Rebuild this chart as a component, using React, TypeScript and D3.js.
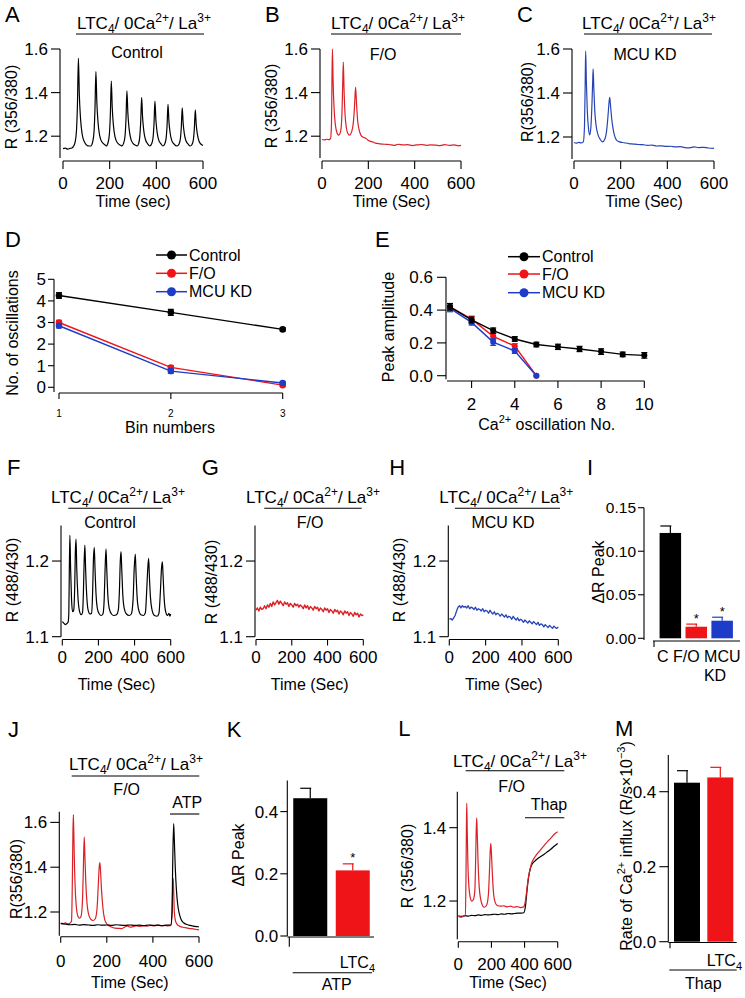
import React from "react";
import * as d3 from "d3";

const FONT = "'Liberation Sans', Arial, Helvetica, sans-serif";
const RED = "#ee1418";
const BLUE = "#1d3cc8";
const TRACE_RED = "#dc2027";
const TRACE_BLUE = "#2744b6";
const TICK = 17;
const TITLE = 16;

// ---------- data ----------
const timeTicks = [0, 200, 400, 600];

// A: control, fura-2 ratio 356/380 (time s, ratio)
const controlFura = [
  [0, 1.143], [10, 1.145], [20, 1.141], [30, 1.144], [38, 1.146],
  [44, 1.152], [52, 1.173], [58, 1.23], [62, 1.35], [66, 1.557], [70, 1.39], [75, 1.283], [82, 1.21], [92, 1.173], [106, 1.156],
  [119, 1.155], [127, 1.173], [133, 1.22], [137, 1.324], [141, 1.496], [145, 1.358], [150, 1.265], [157, 1.204], [167, 1.173], [181, 1.159],
  [185, 1.155], [193, 1.17], [199, 1.212], [203, 1.302], [207, 1.453], [211, 1.332], [216, 1.251], [223, 1.197], [233, 1.17], [247, 1.158],
  [252, 1.155], [260, 1.168], [266, 1.203], [270, 1.28], [274, 1.408], [278, 1.306], [283, 1.237], [290, 1.19], [300, 1.167], [314, 1.157],
  [318, 1.155], [324, 1.166], [329, 1.197], [333, 1.265], [337, 1.378], [341, 1.288], [346, 1.227], [353, 1.186], [363, 1.165],
  [372, 1.155], [380, 1.165], [386, 1.194], [390, 1.256], [394, 1.361], [398, 1.277], [403, 1.221], [410, 1.183], [420, 1.165],
  [428, 1.155], [436, 1.164], [442, 1.191], [446, 1.249], [450, 1.346], [454, 1.268], [459, 1.216], [466, 1.181], [476, 1.164],
  [489, 1.155], [497, 1.163], [503, 1.188], [507, 1.241], [511, 1.33], [515, 1.259], [520, 1.211], [527, 1.179], [537, 1.163],
  [545, 1.155], [553, 1.162], [559, 1.186], [563, 1.237], [567, 1.321], [571, 1.253], [576, 1.208], [583, 1.177], [593, 1.162], [600, 1.158],
];

// B: F/O
const foFura = [
  [0, 1.185], [10, 1.183], [20, 1.186], [30, 1.184], [37, 1.19], [41, 1.26], [43, 1.45], [45, 1.6], [48, 1.45], [52, 1.33],
  [58, 1.25], [65, 1.215], [72, 1.205], [80, 1.22], [86, 1.3], [89, 1.42], [92, 1.54], [95, 1.42], [99, 1.31], [105, 1.24],
  [112, 1.212], [118, 1.205], [128, 1.22], [135, 1.26], [140, 1.33], [145, 1.425], [149, 1.35], [154, 1.27], [160, 1.23],
  [168, 1.205], [178, 1.195], [190, 1.19], [200, 1.18], [215, 1.175], [230, 1.168], [250, 1.165], [270, 1.163], [290, 1.162],
  [310, 1.158], [330, 1.163], [350, 1.16], [370, 1.161], [390, 1.157], [410, 1.16], [430, 1.162], [450, 1.158], [470, 1.16],
  [490, 1.159], [510, 1.157], [530, 1.161], [550, 1.158], [570, 1.16], [590, 1.156], [600, 1.158],
];

// C: MCU KD
const mcuFura = [
  [0, 1.175], [10, 1.172], [20, 1.176], [30, 1.173], [40, 1.178], [45, 1.25], [48, 1.45], [50, 1.59], [53, 1.45], [57, 1.32],
  [62, 1.24], [67, 1.21], [72, 1.24], [77, 1.35], [80, 1.45], [82, 1.51], [85, 1.42], [89, 1.32], [95, 1.25], [103, 1.21],
  [112, 1.19], [122, 1.178], [132, 1.19], [140, 1.23], [146, 1.3], [150, 1.355], [153, 1.38], [156, 1.35], [161, 1.29],
  [167, 1.24], [174, 1.205], [183, 1.185], [195, 1.178], [215, 1.174], [235, 1.17], [255, 1.168], [275, 1.166], [295, 1.165],
  [315, 1.162], [335, 1.163], [355, 1.159], [375, 1.16], [395, 1.157], [415, 1.158], [435, 1.155], [455, 1.156], [475, 1.152],
  [495, 1.151], [515, 1.155], [535, 1.152], [555, 1.153], [575, 1.15], [600, 1.148],
];

// D: number of oscillations per bin
const binNumbers = [1, 2, 3];
const oscControl = [4.25, 3.47, 2.68];
const oscControlErr = [0.13, 0.14, 0.07];
const oscFO = [3.0, 0.92, 0.1];
const oscFOErr = [0.1, 0.08, 0.05];
const oscMCU = [2.85, 0.75, 0.2];
const oscMCUErr = [0.1, 0.1, 0.05];

// E: peak amplitude per oscillation number
const oscNoControl = [1, 2, 3, 4, 5, 6, 7, 8, 9, 10];
const ampControl = [0.42, 0.34, 0.275, 0.224, 0.19, 0.176, 0.163, 0.147, 0.13, 0.124];
const ampControlErr = [0.02, 0.018, 0.016, 0.014, 0.014, 0.016, 0.016, 0.017, 0.014, 0.017];
const oscNoKD = [1, 2, 3, 4, 5];
const ampFO = [0.42, 0.345, 0.24, 0.18, 0.0];
const ampFOErr = [0.02, 0.018, 0.02, 0.015, 0.0];
const ampMCU = [0.41, 0.325, 0.205, 0.15, 0.0];
const ampMCUErr = [0.02, 0.016, 0.02, 0.014, 0.0];

// F: control, mito pericam ratio 488/430
const controlPericam = [
  [0, 1.12], [8, 1.118], [16, 1.116], [24, 1.117], [32, 1.119], [36, 1.13], [39, 1.19], [42, 1.234], [46, 1.19], [51, 1.15],
  [57, 1.133], [63, 1.135], [69, 1.17], [72, 1.21], [76, 1.229], [80, 1.19], [86, 1.155], [94, 1.135], [104, 1.129], [112, 1.132],
  [117, 1.16], [121, 1.2], [125, 1.221], [129, 1.19], [135, 1.155], [143, 1.135], [153, 1.13], [162, 1.131], [168, 1.16],
  [172, 1.2], [177, 1.218], [181, 1.19], [187, 1.155], [195, 1.136], [205, 1.13], [215, 1.128], [225, 1.13], [232, 1.15],
  [237, 1.19], [242, 1.216], [246, 1.19], [252, 1.155], [260, 1.137], [272, 1.13], [285, 1.128], [300, 1.129], [310, 1.135],
  [316, 1.16], [321, 1.2], [325, 1.2125], [329, 1.19], [335, 1.155], [343, 1.137], [355, 1.13], [370, 1.128], [382, 1.13],
  [392, 1.15], [398, 1.19], [404, 1.209], [408, 1.185], [414, 1.153], [422, 1.136], [435, 1.129], [450, 1.128], [460, 1.132],
  [467, 1.16], [473, 1.19], [478, 1.2035], [482, 1.18], [488, 1.152], [496, 1.136], [510, 1.128], [525, 1.127], [535, 1.131],
  [543, 1.16], [549, 1.19], [554, 1.199], [558, 1.18], [564, 1.15], [572, 1.133], [582, 1.128], [590, 1.131], [596, 1.127],
  [600, 1.13],
];

// G, H: sampled every 8 s
const sampleTimes = d3.range(0, 601, 8);
const foPericam = [
  1.135, 1.138, 1.134, 1.139, 1.136, 1.137, 1.141, 1.137, 1.142, 1.139, 1.144, 1.14, 1.146, 1.142, 1.145, 1.148,
  1.143, 1.147, 1.144, 1.141, 1.146, 1.143, 1.145, 1.14, 1.144, 1.142, 1.139, 1.144, 1.141, 1.143, 1.139, 1.142,
  1.14, 1.137, 1.142, 1.138, 1.141, 1.136, 1.14, 1.138, 1.135, 1.14, 1.137, 1.139, 1.134, 1.138, 1.136, 1.133,
  1.138, 1.135, 1.137, 1.132, 1.136, 1.134, 1.131, 1.136, 1.133, 1.135, 1.13, 1.134, 1.132, 1.129, 1.134, 1.131,
  1.133, 1.128, 1.132, 1.13, 1.127, 1.132, 1.129, 1.131, 1.126, 1.13, 1.128, 1.129,
];
const mcuPericam = [
  1.123, 1.124, 1.122, 1.125, 1.128, 1.134, 1.139, 1.141, 1.138, 1.141, 1.139, 1.14, 1.138, 1.141, 1.137, 1.139,
  1.138, 1.136, 1.139, 1.135, 1.137, 1.136, 1.134, 1.137, 1.133, 1.135, 1.134, 1.131, 1.135, 1.132, 1.13, 1.133,
  1.129, 1.131, 1.13, 1.127, 1.13, 1.128, 1.126, 1.129, 1.125, 1.127, 1.126, 1.123, 1.127, 1.124, 1.122, 1.125,
  1.121, 1.123, 1.122, 1.119, 1.122, 1.12, 1.118, 1.121, 1.119, 1.117, 1.12, 1.118, 1.116, 1.119, 1.115, 1.117,
  1.116, 1.113, 1.116, 1.114, 1.112, 1.115, 1.113, 1.111, 1.114, 1.112, 1.111, 1.113,
];

// I: mito delta R peak
const groupsI = ["C", "F/O", "MCU KD"];
const deltaPeakI = [0.121, 0.0133, 0.0202];
const deltaPeakIErr = [0.008, 0.003, 0.004];

// J: F/O + ATP (red) vs ATP alone (black)
const jRed = [
  [0, 1.15], [10, 1.148], [20, 1.152], [30, 1.147], [40, 1.15], [47, 1.16], [50, 1.3], [53, 1.55], [55, 1.635], [57, 1.55],
  [60, 1.4], [64, 1.28], [69, 1.21], [75, 1.18], [82, 1.173], [88, 1.18], [94, 1.24], [98, 1.38], [102, 1.535], [105, 1.45],
  [109, 1.33], [114, 1.24], [121, 1.19], [130, 1.168], [140, 1.162], [150, 1.17], [158, 1.22], [163, 1.32], [167, 1.4],
  [170, 1.42], [173, 1.38], [177, 1.3], [183, 1.22], [190, 1.17], [198, 1.15], [208, 1.14], [220, 1.133], [235, 1.128],
  [250, 1.127], [265, 1.126], [280, 1.134], [290, 1.138], [300, 1.132], [315, 1.135], [330, 1.138], [345, 1.136],
  [360, 1.139], [375, 1.137], [390, 1.14], [405, 1.138], [420, 1.141], [435, 1.139], [450, 1.14], [465, 1.138], [478, 1.14],
  [483, 1.2], [486, 1.31], [488, 1.35], [490, 1.3], [493, 1.2], [498, 1.16], [505, 1.145], [515, 1.137], [530, 1.132],
  [545, 1.129], [560, 1.126], [575, 1.125], [590, 1.122], [600, 1.12],
];
const jBlack = [
  [0, 1.148], [20, 1.146], [40, 1.143], [60, 1.145], [80, 1.141], [100, 1.144], [120, 1.142], [140, 1.14], [160, 1.143],
  [180, 1.141], [200, 1.142], [220, 1.14], [240, 1.143], [260, 1.141], [280, 1.14], [300, 1.142], [320, 1.14], [340, 1.141],
  [360, 1.139], [380, 1.142], [400, 1.14], [420, 1.141], [440, 1.139], [460, 1.141], [478, 1.142], [483, 1.2], [486, 1.42],
  [490, 1.595], [493, 1.52], [497, 1.4], [502, 1.3], [508, 1.23], [515, 1.19], [523, 1.165], [533, 1.152], [545, 1.145],
  [560, 1.14], [575, 1.137], [590, 1.135], [600, 1.134],
];

// K: ATP response
const groupsK = ["ATP", "LTC4+ATP"];
const deltaPeakK = [0.443, 0.211];
const deltaPeakKErr = [0.032, 0.021];

// L: F/O + thapsigargin (red) vs thapsigargin alone (black)
const lRed = [
  [0, 1.158], [15, 1.156], [30, 1.158], [42, 1.16], [46, 1.25], [49, 1.4], [51, 1.466], [54, 1.39], [58, 1.3], [64, 1.24],
  [72, 1.21], [81, 1.2], [92, 1.205], [100, 1.23], [105, 1.32], [108, 1.39], [111, 1.427], [114, 1.39], [119, 1.31],
  [126, 1.24], [135, 1.205], [146, 1.188], [157, 1.183], [172, 1.19], [182, 1.22], [188, 1.28], [192, 1.33], [196, 1.357],
  [200, 1.33], [206, 1.27], [213, 1.22], [222, 1.197], [235, 1.188], [255, 1.186], [275, 1.187], [295, 1.184], [315, 1.186],
  [335, 1.183], [355, 1.185], [375, 1.182], [395, 1.184], [403, 1.195], [412, 1.225], [420, 1.255], [430, 1.28], [440, 1.3],
  [455, 1.315], [470, 1.325], [490, 1.336], [510, 1.347], [530, 1.358], [545, 1.365], [560, 1.372], [575, 1.38], [590, 1.386],
  [600, 1.389],
];
const lBlack = [
  [0, 1.16], [20, 1.158], [40, 1.16], [60, 1.159], [80, 1.161], [100, 1.16], [120, 1.162], [140, 1.161], [160, 1.163],
  [180, 1.162], [200, 1.163], [220, 1.164], [240, 1.163], [260, 1.165], [280, 1.164], [300, 1.166], [320, 1.165],
  [340, 1.166], [360, 1.167], [380, 1.167], [395, 1.168], [405, 1.185], [413, 1.22], [420, 1.25], [428, 1.275], [436, 1.29],
  [445, 1.3], [460, 1.308], [480, 1.316], [500, 1.322], [520, 1.328], [540, 1.335], [560, 1.342], [580, 1.35], [600, 1.357],
];

// M: rate of Ca2+ influx after thapsigargin
const groupsM = ["Thap", "LTC4+Thap"];
const influxRate = [0.424, 0.438];
const influxRateErr = [0.032, 0.027];

// ---------- helpers ----------
const f1 = d3.format(".1f");
const f2 = d3.format(".2f");

function LtcHeader({ cx, y }) {
  return (
    <text x={cx} y={y} textAnchor="middle" fontSize={17}>
      LTC<tspan fontSize={12} dy={4}>4</tspan>
      <tspan dy={-4}>/ 0Ca</tspan>
      <tspan fontSize={12} dy={-7}>2+</tspan>
      <tspan dy={7}>/ La</tspan>
      <tspan fontSize={12} dy={-7}>3+</tspan>
    </text>
  );
}

function YLabel({ x, y, children, size = TITLE }) {
  return (
    <text transform={`translate(${x},${y}) rotate(-90)`} textAnchor="middle" dy="0.35em" fontSize={size}>
      {children}
    </text>
  );
}

function Letter({ x, y, t }) {
  return <text x={x} y={y} fontSize={22}>{t}</text>;
}

function YAxis({ y, x0, ext, ticks, fmt, len, gap = 3, size = TICK }) {
  return (
    <g>
      <line x1={x0} x2={x0} y1={y(ext[1])} y2={y(ext[0])} stroke="#000" strokeWidth={1.1} />
      {ticks.map((t) => (
        <g key={t}>
          <line x1={x0 - len} x2={x0} y1={y(t)} y2={y(t)} stroke="#000" strokeWidth={1.1} />
          <text x={x0 - len - gap} y={y(t)} dy="0.35em" textAnchor="end" fontSize={size}>{fmt(t)}</text>
        </g>
      ))}
    </g>
  );
}

function XAxis({ x, y0, ext, ticks, fmt = (v) => String(v), len, base, size = TICK }) {
  return (
    <g>
      <line x1={x(ext[0])} x2={x(ext[1])} y1={y0} y2={y0} stroke="#000" strokeWidth={1.1} />
      {ticks.map((t) => (
        <g key={t}>
          <line x1={x(t)} x2={x(t)} y1={y0} y2={y0 + len} stroke="#000" strokeWidth={1.1} />
          <text x={x(t)} y={base} textAnchor="middle" fontSize={size}>{fmt(t)}</text>
        </g>
      ))}
    </g>
  );
}

function Trace({ data, x, y, color, curve = d3.curveMonotoneX, width = 1.2 }) {
  const gen = d3.line().x((d) => x(d[0])).y((d) => y(d[1])).curve(curve);
  return <path d={gen(data)} fill="none" stroke={color} strokeWidth={width} strokeLinejoin="round" />;
}

function TimePanel({ p, traces, yTicks, yExt, title = "Time (Sec)" }) {
  const x = d3.scaleLinear().domain([0, 600]).range(p.xr);
  const y = d3.scaleLinear().domain(p.yd).range(p.yr);
  return (
    <g>
      {traces.map((t, i) => (
        <Trace key={i} data={t.data} x={x} y={y} color={t.color} curve={t.curve} width={t.width} />
      ))}
      <YAxis y={y} x0={p.ax} ext={yExt} ticks={yTicks} fmt={f1} len={p.ylen} gap={p.ygap} />
      <XAxis x={x} y0={p.xy} ext={[0, 600]} ticks={timeTicks} len={p.xlen} base={p.xlab} />
      <text x={(p.xr[0] + p.xr[1]) / 2} y={p.title} textAnchor="middle" fontSize={TITLE}>{title}</text>
    </g>
  );
}

function Dots({ xs, ys, es, x, y, color, r = 3.3 }) {
  const pts = xs.map((v, i) => [v, ys[i], es[i]]);
  const gen = d3.line().x((d) => x(d[0])).y((d) => y(d[1]));
  return (
    <g>
      <path d={gen(pts)} fill="none" stroke={color} strokeWidth={1.4} />
      {pts.map((d, i) => (
        <g key={i}>
          {d[2] > 0 && (
            <g stroke={color} strokeWidth={1.2}>
              <line x1={x(d[0])} x2={x(d[0])} y1={y(d[1] - d[2])} y2={y(d[1] + d[2])} />
              <line x1={x(d[0]) - 3} x2={x(d[0]) + 3} y1={y(d[1] + d[2])} y2={y(d[1] + d[2])} />
              <line x1={x(d[0]) - 3} x2={x(d[0]) + 3} y1={y(d[1] - d[2])} y2={y(d[1] - d[2])} />
            </g>
          )}
          <circle cx={x(d[0])} cy={y(d[1])} r={r} fill={color} />
        </g>
      ))}
    </g>
  );
}

function Legend({ x1, x2, rows }) {
  return (
    <g>
      {rows.map((r) => (
        <g key={r.label}>
          <line x1={x1} x2={x2} y1={r.y} y2={r.y} stroke={r.color} strokeWidth={1.5} />
          <circle cx={(x1 + x2) / 2} cy={r.y} r={4.5} fill={r.color} />
          <text x={x2 + 2} y={r.y} dy="0.35em" fontSize={TITLE}>{r.label}</text>
        </g>
      ))}
    </g>
  );
}

function Bars({ groups, values, errs, colors, x, y, errW = 1.2 }) {
  return (
    <g>
      {groups.map((g, i) => {
        const bx = x(g);
        const bw = x.bandwidth();
        const cx = bx + bw / 2;
        const top = y(values[i] + errs[i]);
        return (
          <g key={g}>
            <line x1={cx} x2={cx} y1={y(values[i])} y2={top} stroke={colors[i]} strokeWidth={errW} />
            <line x1={cx - 10} x2={cx + 1} y1={top} y2={top} stroke={colors[i]} strokeWidth={errW} />
            <rect x={bx} y={y(values[i])} width={bw} height={y(0) - y(values[i])} fill={colors[i]} />
          </g>
        );
      })}
    </g>
  );
}

// ---------- layout ----------
const pA = { ax: 60, xr: [63, 203], yd: [1.1, 1.6], yr: [158, 49], xy: 161, ylen: 9, ygap: 3, xlen: 8, xlab: 189, title: 207 };
const pB = { ...pA, ax: 320, xr: [322, 461] };
const pC = { ...pA, ax: 572, xr: [574, 714], yr: [159, 49] };
const pF = { ax: 61, xr: [62.3, 170.7], yd: [1.1, 1.25], yr: [636.7, 523.2], xy: 639.5, ylen: 9, ygap: 3, xlen: 6, xlab: 663, title: 689.5 };
const pG = { ...pF, ax: 255, xr: [256, 363.3] };
const pH = { ...pF, ax: 448.3, xr: [449.3, 558.3] };
const pJ = { ax: 59.3, xr: [60.7, 199], yd: [1.1, 1.65], yr: [934.4, 811.2], xy: 936.7, ylen: 9, ygap: 3, xlen: 6, xlab: 966.5, title: 987.5 };
const pL = { ax: 457.3, xr: [458.3, 557.7], yd: [1.1, 1.5], yr: [937.7, 791], xy: 941.7, ylen: 8, ygap: 3, xlen: 6, xlab: 970, title: 988 };

export default function App() {
  // D
  const xD = d3.scaleLinear().domain([1, 3]).range([59, 282.7]);
  const yD = d3.scaleLinear().domain([0, 5]).range([387.3, 279.3]);
  // E
  const xE = d3.scaleLinear().domain([1, 10]).range([450, 644.3]);
  const yE = d3.scaleLinear().domain([0, 0.6]).range([375.7, 277.3]);
  // I
  const yI = d3.scaleLinear().domain([0, 0.15]).range([638.3, 507.7]);
  const xI = d3.scaleBand().domain(groupsI).range([657, 735.5]).paddingInner(0.17).paddingOuter(0.1);
  // K
  const yK = d3.scaleLinear().domain([0, 0.5]).range([936, 780.5]);
  const xK = d3.scaleBand().domain(groupsK).range([289, 374]).paddingInner(0.2).paddingOuter(0.1);
  // M
  const yM = d3.scaleLinear().domain([0, 0.5]).range([941.7, 754.2]);
  const xM = d3.scaleBand().domain(groupsM).range([670, 737.3]).paddingInner(0.22).paddingOuter(0.12);

  const gPts = sampleTimes.map((t, i) => [t, foPericam[i]]);
  const hPts = sampleTimes.map((t, i) => [t, mcuPericam[i]]);

  const redKx = xK(groupsK[1]) + xK.bandwidth() / 2;
  const redKTop = yK(deltaPeakK[1] + deltaPeakKErr[1]);

  return (
    <svg width={745} height={998} style={{ position: "absolute", left: 0, top: 0, background: "#fff" }} fontFamily={FONT}>
      <rect width={745} height={998} fill="#fff" />

      {/* ---------- Row 1 ---------- */}
      <Letter x={5} y={22} t="A" />
      <LtcHeader cx={144} y={29} />
      <line x1={76} x2={204} y1={34} y2={34} stroke="#000" strokeWidth={1.1} />
      <text x={137} y={58} textAnchor="middle" fontSize={TITLE}>Control</text>
      <TimePanel p={pA} traces={[{ data: controlFura, color: "#000" }]} yTicks={[1.2, 1.4, 1.6]} yExt={[1.1, 1.6]} title="Time (sec)" />
      <YLabel x={11.5} y={107}>R (356/380)</YLabel>

      <Letter x={265} y={22} t="B" />
      <LtcHeader cx={398} y={29} />
      <line x1={331} x2={461} y1={34} y2={34} stroke="#000" strokeWidth={1.1} />
      <text x={383} y={60} textAnchor="middle" fontSize={TITLE}>F/O</text>
      <TimePanel p={pB} traces={[{ data: foFura, color: TRACE_RED }]} yTicks={[1.2, 1.4, 1.6]} yExt={[1.1, 1.6]} />
      <YLabel x={271.5} y={106}>R (356/380)</YLabel>

      <Letter x={517} y={22} t="C" />
      <LtcHeader cx={649} y={29} />
      <line x1={584} x2={712} y1={34} y2={34} stroke="#000" strokeWidth={1.1} />
      <text x={645} y={60} textAnchor="middle" fontSize={TITLE}>MCU KD</text>
      <TimePanel p={pC} traces={[{ data: mcuFura, color: TRACE_BLUE }]} yTicks={[1.2, 1.4, 1.6]} yExt={[1.1, 1.6]} />
      <YLabel x={527.5} y={102}>R(356/380)</YLabel>

      {/* ---------- Row 2: D ---------- */}
      <Letter x={5} y={247} t="D" />
      <Dots xs={binNumbers} ys={oscFO} es={oscFOErr} x={xD} y={yD} color={RED} />
      <Dots xs={binNumbers} ys={oscMCU} es={oscMCUErr} x={xD} y={yD} color={BLUE} />
      <Dots xs={binNumbers} ys={oscControl} es={oscControlErr} x={xD} y={yD} color="#000" />
      <YAxis y={yD} x0={54} ext={[-0.22, 5]} ticks={[0, 1, 2, 3, 4, 5]} fmt={(v) => String(v)} len={6} gap={2} />
      <XAxis x={xD} y0={393} ext={[1, 3]} ticks={binNumbers} len={6} base={417} size={10} />
      <text x={170} y={433} textAnchor="middle" fontSize={TITLE}>Bin numbers</text>
      <YLabel x={12.5} y={333}>No. of oscillations</YLabel>
      <Legend x1={156} x2={187} rows={[
        { label: "Control", color: "#000", y: 255 },
        { label: "F/O", color: RED, y: 273.3 },
        { label: "MCU KD", color: BLUE, y: 291.7 },
      ]} />

      {/* ---------- Row 2: E ---------- */}
      <Letter x={375} y={247} t="E" />
      <Dots xs={oscNoKD} ys={ampFO} es={ampFOErr} x={xE} y={yE} color={RED} r={3} />
      <Dots xs={oscNoKD} ys={ampMCU} es={ampMCUErr} x={xE} y={yE} color={BLUE} r={3} />
      <Dots xs={oscNoControl} ys={ampControl} es={ampControlErr} x={xE} y={yE} color="#000" r={3} />
      <YAxis y={yE} x0={446} ext={[-0.022, 0.6]} ticks={[0, 0.2, 0.4, 0.6]} fmt={f1} len={9} gap={4} />
      <XAxis x={xE} y0={381} ext={[0.86, 10]} ticks={[2, 4, 6, 8, 10]} len={7} base={410} />
      <text x={546.7} y={430} textAnchor="middle" fontSize={TITLE}>
        Ca<tspan fontSize={11} dy={-7}>2+</tspan><tspan dy={7}> oscillation No.</tspan>
      </text>
      <YLabel x={388} y={327}>Peak amplitude</YLabel>
      <Legend x1={508} x2={540} rows={[
        { label: "Control", color: "#000", y: 256.7 },
        { label: "F/O", color: RED, y: 274 },
        { label: "MCU KD", color: BLUE, y: 292.7 },
      ]} />

      {/* ---------- Row 3 ---------- */}
      <Letter x={7} y={475} t="F" />
      <LtcHeader cx={118} y={503} />
      <line x1={68.3} x2={162.7} y1={508.3} y2={508.3} stroke="#000" strokeWidth={1.1} />
      <text x={110} y={528} textAnchor="middle" fontSize={TITLE}>Control</text>
      <TimePanel p={pF} traces={[{ data: controlPericam, color: "#000" }]} yTicks={[1.1, 1.2]} yExt={[1.1, 1.247]} />
      <YLabel x={12.5} y={580}>R (488/430)</YLabel>

      <Letter x={201.7} y={475} t="G" />
      <LtcHeader cx={313} y={503} />
      <line x1={264.3} x2={361.7} y1={508.3} y2={508.3} stroke="#000" strokeWidth={1.1} />
      <text x={310} y={528} textAnchor="middle" fontSize={TITLE}>F/O</text>
      <TimePanel p={pG} traces={[{ data: gPts, color: TRACE_RED, curve: d3.curveLinear, width: 1.4 }]} yTicks={[1.1, 1.2]} yExt={[1.1, 1.247]} />
      <YLabel x={211} y={582}>R (488/430)</YLabel>

      <Letter x={389.3} y={475} t="H" />
      <LtcHeader cx={506.3} y={503} />
      <line x1={455} x2={560} y1={508.3} y2={508.3} stroke="#000" strokeWidth={1.1} />
      <text x={503} y={528} textAnchor="middle" fontSize={TITLE}>MCU KD</text>
      <TimePanel p={pH} traces={[{ data: hPts, color: TRACE_BLUE, curve: d3.curveLinear, width: 1.3 }]} yTicks={[1.1, 1.2]} yExt={[1.1, 1.247]} />
      <YLabel x={399} y={580}>R (488/430)</YLabel>

      {/* I */}
      <Letter x={587} y={475} t="I" />
      <Bars groups={groupsI} values={deltaPeakI} errs={deltaPeakIErr} colors={["#000", RED, BLUE]} x={xI} y={yI} />
      {groupsI.slice(1).map((g, i) => (
        <text key={g} x={xI(g) + xI.bandwidth() / 2} y={yI(deltaPeakI[i + 1] + deltaPeakIErr[i + 1]) - 1.5} textAnchor="middle" fontSize={13}>*</text>
      ))}
      <YAxis y={yI} x0={644} ext={[-0.002, 0.15]} ticks={[0, 0.05, 0.1, 0.15]} fmt={f2} len={6} gap={2} size={15.5} />
      <line x1={653} x2={740} y1={641} y2={641} stroke="#000" strokeWidth={1.1} />
      <line x1={654} x2={654} y1={641} y2={647} stroke="#000" strokeWidth={1.1} />
      <text x={657} y={662} fontSize={TITLE} style={{ whiteSpace: "pre" }}>C F/O MCU</text>
      <text x={715} y={681} textAnchor="middle" fontSize={TITLE}>KD</text>
      <YLabel x={598} y={572}>ΔR Peak</YLabel>

      {/* ---------- Row 4 ---------- */}
      <Letter x={8} y={737} t="J" />
      <LtcHeader cx={136} y={770} />
      <line x1={71.7} x2={199.3} y1={776} y2={776} stroke="#000" strokeWidth={1.1} />
      <text x={126.7} y={795} textAnchor="middle" fontSize={TITLE}>F/O</text>
      <text x={187.3} y={808.3} textAnchor="middle" fontSize={TITLE}>ATP</text>
      <line x1={170} x2={199.3} y1={814} y2={814} stroke="#000" strokeWidth={1.1} />
      <TimePanel p={pJ} traces={[{ data: jRed, color: TRACE_RED }, { data: jBlack, color: "#000" }]} yTicks={[1.2, 1.4, 1.6]} yExt={[1.094, 1.647]} />
      <YLabel x={16} y={879}>R(356/380)</YLabel>

      {/* K */}
      <Letter x={226.7} y={737} t="K" />
      <Bars groups={groupsK} values={deltaPeakK} errs={deltaPeakKErr} colors={["#000", RED]} x={xK} y={yK} />
      <text x={redKx} y={redKTop - 2} textAnchor="middle" fontSize={13}>*</text>
      <YAxis y={yK} x0={287.3} ext={[0, 0.5]} ticks={[0, 0.2, 0.4]} fmt={f1} len={7} gap={2} />
      <line x1={287.3} x2={374} y1={937} y2={937} stroke="#000" strokeWidth={1.1} />
      <line x1={289.3} x2={289.3} y1={937} y2={946.7} stroke="#000" strokeWidth={1.1} />
      <text x={375} y={968} textAnchor="end" fontSize={TITLE}>LTC<tspan fontSize={11} dy={4}>4</tspan></text>
      <line x1={292.7} x2={372} y1={972.7} y2={972.7} stroke="#000" strokeWidth={1.1} />
      <text x={336.7} y={990} textAnchor="middle" fontSize={TITLE}>ATP</text>
      <YLabel x={238} y={855}>ΔR Peak</YLabel>

      {/* L */}
      <Letter x={398.3} y={736} t="L" />
      <LtcHeader cx={520} y={766.7} />
      <line x1={465.7} x2={564.3} y1={770.7} y2={770.7} stroke="#000" strokeWidth={1.1} />
      <text x={511.7} y={791.7} textAnchor="middle" fontSize={TITLE}>F/O</text>
      <text x={549} y={810} textAnchor="middle" fontSize={TITLE}>Thap</text>
      <line x1={525} x2={564.3} y1={817.7} y2={817.7} stroke="#000" strokeWidth={1.1} />
      <TimePanel p={pL} traces={[{ data: lBlack, color: "#000" }, { data: lRed, color: TRACE_RED }]} yTicks={[1.2, 1.4]} yExt={[1.096, 1.498]} />
      <YLabel x={407.5} y={866}>R (356/380)</YLabel>

      {/* M */}
      <Letter x={615} y={736} t="M" />
      <Bars groups={groupsM} values={influxRate} errs={influxRateErr} colors={["#000", RED]} x={xM} y={yM} />
      <YAxis y={yM} x0={668.3} ext={[0, 0.498]} ticks={[0, 0.2, 0.4]} fmt={f1} len={9} gap={3} />
      <line x1={668.3} x2={736.7} y1={942.5} y2={942.5} stroke="#000" strokeWidth={1.1} />
      <line x1={670} x2={670} y1={942.5} y2={948.3} stroke="#000" strokeWidth={1.1} />
      <text x={742} y={966} textAnchor="end" fontSize={TITLE}>LTC<tspan fontSize={11} dy={4}>4</tspan></text>
      <line x1={669.3} x2={736.7} y1={970} y2={970} stroke="#000" strokeWidth={1.1} />
      <text x={703.3} y={989} textAnchor="middle" fontSize={TITLE}>Thap</text>
      <YLabel x={626} y={846} size={16}>
        Rate of Ca<tspan fontSize={11} dy={-7}>2+</tspan>
        <tspan dy={7}> influx (R/s×10</tspan>
        <tspan fontSize={11} dy={-7}>−3</tspan>
        <tspan dy={7}>)</tspan>
      </YLabel>
    </svg>
  );
}
